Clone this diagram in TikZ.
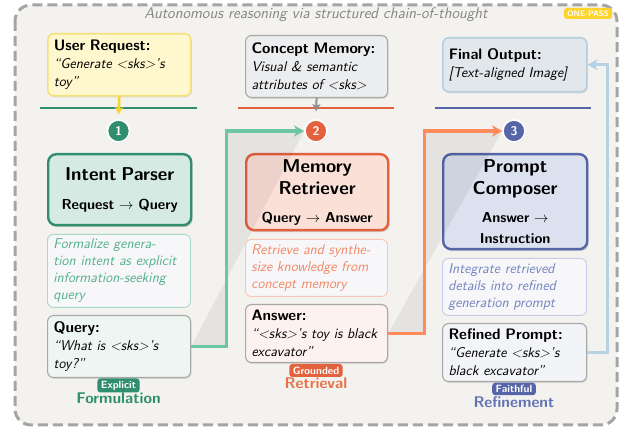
\documentclass[tikz,border=0pt]{standalone}
\usepackage{fontspec}
\usetikzlibrary{arrows.meta,shadows}
\definecolor{bgc}{HTML}{F3F2EE}
\definecolor{framec}{HTML}{A5A5A5}
\definecolor{gA}{HTML}{2E8E6E}
\definecolor{gArrow}{HTML}{6CC6A6}
\definecolor{gFill}{HTML}{D4EAE2}
\definecolor{gText}{HTML}{55B08F}
\definecolor{gLight}{HTML}{A9D8C6}
\definecolor{oA}{HTML}{E3623D}
\definecolor{oArrow}{HTML}{FF8A5B}
\definecolor{oFill}{HTML}{FBE0D8}
\definecolor{oText}{HTML}{F08866}
\definecolor{oLight}{HTML}{F6C5B4}
\definecolor{oLabel}{HTML}{E8714A}
\definecolor{bA}{HTML}{5565A8}
\definecolor{bArrow}{HTML}{B7D2E2}
\definecolor{bFill}{HTML}{DCE1EF}
\definecolor{bText}{HTML}{7483C0}
\definecolor{bLight}{HTML}{C4CBE7}
\definecolor{bLabel}{HTML}{6273B5}
\definecolor{yFill}{HTML}{FFF7CE}
\definecolor{yBorder}{HTML}{F6E07A}
\definecolor{yArrow}{HTML}{F7D52E}
\definecolor{yBadge}{HTML}{FFD42A}
\definecolor{memFill}{HTML}{ECEDEF}
\definecolor{outFill}{HTML}{E2E7EC}
\definecolor{outBorder}{HTML}{B6CFDF}
\definecolor{grayB}{HTML}{A8A8A8}
\definecolor{grayArrow}{HTML}{8E8E8E}
\definecolor{titleC}{HTML}{858585}
\definecolor{descFill}{HTML}{F7F7F9}
\definecolor{qFill}{HTML}{EEF6F3}
\definecolor{aFill}{HTML}{FDF2EF}
\definecolor{rFill}{HTML}{F2F4F8}
\newcommand{\bxttl}[1]{{\upshape\bfseries\fontsize{15.2}{18}\selectfont #1}}
\newcommand{\bigttl}{\fontsize{18.6}{22}\selectfont}
\tikzset{
  mainbox/.style={rounded corners=8pt, line width=2.4pt, align=center, inner sep=0pt,
    anchor=north west, text=black,
    font=\sffamily\bfseries\fontsize{14.4}{22}\selectfont,
    drop shadow={shadow xshift=1.5pt, shadow yshift=-2pt, opacity=0.28}},
  outbox/.style={rounded corners=6pt, line width=1.1pt, draw=grayB, align=left,
    inner xsep=6pt, inner ysep=0pt, anchor=north west, text=black,
    font=\sffamily\itshape\fontsize{14.2}{18}\selectfont,
    drop shadow={shadow xshift=1pt, shadow yshift=-1.5pt, opacity=0.2}},
  descbox/.style={rounded corners=6pt, line width=0.9pt, fill=descFill, align=left,
    inner xsep=6pt, inner ysep=0pt, anchor=north west,
    font=\sffamily\itshape\fontsize{14.2}{17}\selectfont},
  stepcircle/.style={circle, draw=white, line width=1.6pt, minimum size=22pt, inner sep=0pt,
    text=white, font=\sffamily\bfseries\fontsize{12.5}{12.5}\selectfont,
    drop shadow={shadow xshift=0.8pt, shadow yshift=-1pt, opacity=0.2}},
  badge/.style={rounded corners=3pt, inner xsep=3.5pt, inner ysep=0pt, minimum height=14pt,
    text=white, font=\sffamily\bfseries\fontsize{10.5}{10.5}\selectfont},
  phaselabel/.style={anchor=base, font=\sffamily\bfseries\fontsize{15.5}{15.5}\selectfont},
  sepline/.style={line width=2.6pt},
  flow/.style={line width=3.2pt, -{Stealth[length=10pt, width=11pt, inset=2.5pt]}},
  feed/.style={line width=2.6pt, -{Stealth[length=7pt, width=8pt, inset=1.5pt]}},
  chord/.style={fill=black, fill opacity=0.06}
}
\begin{document}
\begin{tikzpicture}[x=1pt, y=-1pt]
\useasboundingbox (0,0) rectangle (627,430);
% frame
\draw[framec, fill=bgc, line width=3pt, dash pattern=on 10pt off 5pt, rounded corners=16pt]
  (15,5) rectangle (617,425);
\node[anchor=base, text=titleC, font=\sffamily\itshape\fontsize{15.4}{18}\selectfont] (title)
  at (316,19) {Autonomous reasoning via structured chain-of-thought};
\node[badge, fill=yBadge, minimum width=48pt, minimum height=11pt,
  font=\sffamily\bfseries\fontsize{8}{8}\selectfont] (onepass) at (588,13.5) {ONE-PASS};
% separators
\draw[sepline, gA] (40,108) -- (197,108);
\draw[sepline, oA] (238,108) -- (394,108);
\draw[sepline, bA] (435,108) -- (591,108);
% top boxes
\node[outbox, draw=yBorder, line width=1.6pt, fill=yFill, text width=131pt, minimum height=62pt] (userreq)
  at (47,33) {\bxttl{User Request:}\\“Generate <sks>'s\\toy”};
\node[outbox, draw=grayB, fill=memFill, text width=130pt, minimum height=62pt] (concept)
  at (245,35) {\bxttl{Concept Memory:}\\Visual \& semantic\\\mbox{attributes of <sks>}};
\node[outbox, draw=outBorder, line width=1.6pt, fill=outFill, text width=132pt, minimum height=54pt] (final)
  at (442,37) {\bxttl{Final Output:}\\{[}Text-aligned Image{]}};
% main boxes
\node[mainbox, draw=gA, fill=gFill, text width=143pt, minimum height=71pt] (intent)
  at (47,153) {{\bigttl Intent Parser}\\[7pt]Request $\rightarrow$ Query};
\node[mainbox, draw=oA, fill=oFill, text width=142pt, minimum height=76pt] (retriever)
  at (245,153) {{\bigttl Memory\\Retriever}\\[6pt]Query $\rightarrow$ Answer};
\node[mainbox, draw=bA, fill=bFill, text width=144pt, minimum height=95pt] (composer)
  at (442,153) {{\bigttl Prompt\\Composer}\\[6pt]Answer $\rightarrow$\\[-1pt]Instruction};
% description boxes
\node[descbox, draw=gLight, text=gText, text width=131pt, minimum height=73pt] (desc1)
  at (47,234) {Formalize genera-\\\mbox{tion intent as explicit}\\information-seeking\\query};
\node[descbox, draw=oLight, text=oText, text width=130pt, minimum height=57pt] (desc2)
  at (245,239) {\mbox{Retrieve and synthe-}\\size knowledge from\\concept memory};
\node[descbox, draw=bLight, text=bText, text width=132pt, minimum height=57pt] (desc3)
  at (442,258) {Integrate retrieved\\details into refined\\generation prompt};
% output boxes
\node[outbox, fill=qFill, text width=131pt, minimum height=62pt] (query)
  at (47,315) {\bxttl{Query:}\\“What is <sks>'s\\toy?”};
\node[outbox, fill=aFill, text width=130pt, minimum height=58pt] (answer)
  at (245,304) {\bxttl{Answer:}\\\mbox{“<sks>'s toy is black}\\excavator”};
\node[outbox, fill=rFill, text width=132pt, minimum height=58pt] (refined)
  at (442,323) {\bxttl{Refined Prompt:}\\“Generate <sks>'s\\black excavator”};
% step circles
\node[stepcircle, fill=gA] (c1) at (118.5,131) {1};
\node[stepcircle, fill=oA] (c2) at (316,131) {2};
\node[stepcircle, fill=bA] (c3) at (514,131) {3};
% translucent funnels
\fill[chord] (query.east) -- ++(35,0) |- (c2.west) -- cycle;
\fill[chord] (answer.east) -- ++(36,0) |- (c3.west) -- cycle;
% feed arrows
\draw[feed, yArrow, shorten >=5pt] (userreq.south) -- (c1.north);
\draw[feed, grayArrow, line width=2pt, shorten >=8pt] (concept.south) -- (c2.north);
% flow arrows
\draw[flow, gArrow] (query.east) -- ++(35,0) |- (c2.west);
\draw[flow, oArrow] (answer.east) -- ++(36,0) |- (c3.west);
\draw[flow, bArrow] (refined.east) -- ++(20,0) |- (final.east);
% badges and phase labels
\node[badge, fill=gA] (bexp) at (118.5,385.5) {Explicit};
\node[phaselabel, text=gA] (lform) at (118.5,404) {Formulation};
\node[badge, fill=oA, minimum height=13pt] (bgro) at (316,370.5) {Grounded};
\node[phaselabel, text=oLabel] (lret) at (316,389) {Retrieval};
\node[badge, fill=bA, minimum height=12.5pt] (bfai) at (514,389) {Faithful};
\node[phaselabel, text=bLabel] (lref) at (514,408) {Refinement};
\end{tikzpicture}
\end{document}
